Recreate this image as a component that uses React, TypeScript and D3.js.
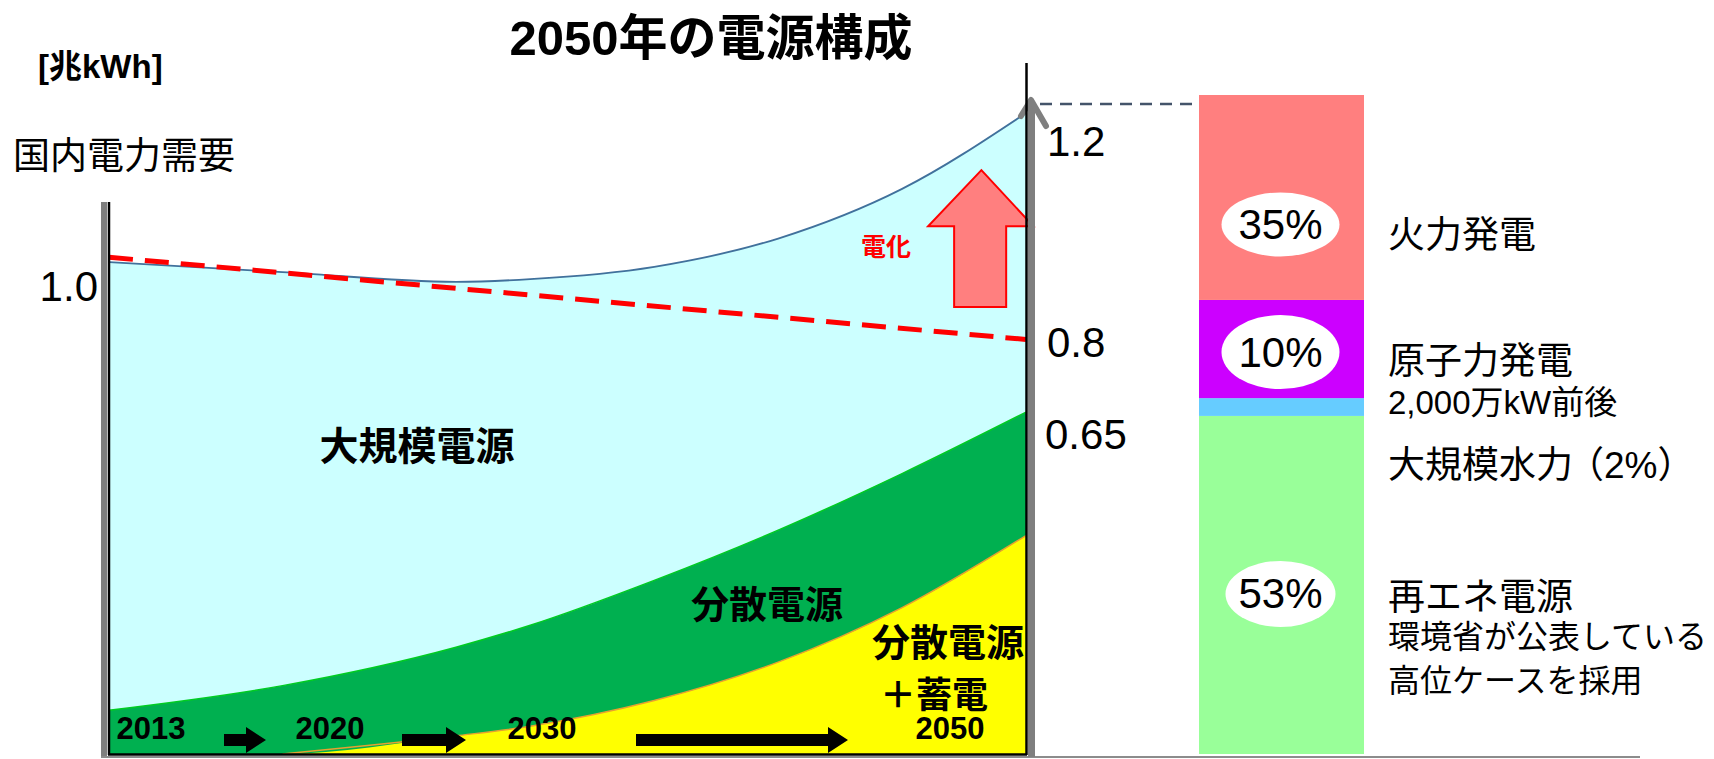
import React from 'react';
import * as d3 from 'd3';

// ---- data ----
const years = [2013, 2020, 2027, 2030, 2035, 2040, 2045, 2050];
const demand = [0.921, 0.902, 0.884, 0.889, 0.912, 0.965, 1.058, 1.2]; // 国内電力需要 (兆kWh)
const distributed = [0.082, 0.128, 0.2, 0.241, 0.325, 0.419, 0.525, 0.64]; // 分散電源 (top)
const storage = [0, 0, 0.034, 0.052, 0.1, 0.172, 0.274, 0.409]; // 分散電源+蓄電 (top)
const baselineYears = [2013, 2050];
const baselineDemand = [0.93, 0.776]; // red dashed (no electrification)

const yearLabels = ['2013', '2020', '2030', '2050'];

const mixNames = ['再エネ電源', '大規模水力', '原子力発電', '火力発電'];
const mixDrawnShare = [51.3, 2.7, 14.9, 31.1]; // heights as drawn in the picture
const mixLabels = ['53%', '', '10%', '35%'];
const mixColors = ['#99FF99', '#66CCFF', '#CC00FF', '#FF7F7F'];

const JP = "'Noto Sans CJK JP', sans-serif";
const MIX = "'Liberation Sans', 'Noto Sans CJK JP', sans-serif";

export default function App() {
  const W = 1714;
  const H = 759;
  const x = d3.scaleLinear().domain([2013, 2050]).range([109, 1026]);
  const y = d3.scaleLinear().domain([0, 1.2]).range([754, 113]);

  const rows = years.map((yr, i) => ({ yr, d: demand[i], g: distributed[i], s: storage[i] }));
  const curve = d3.curveMonotoneX;

  const areaDemand = d3.area<any>().x(r => x(r.yr)).y0(y(0)).y1(r => y(r.d)).curve(curve)(rows) || '';
  const lineDemand = d3.line<any>().x(r => x(r.yr)).y(r => y(r.d)).curve(curve)(rows) || '';
  const areaDist = d3.area<any>().x(r => x(r.yr)).y0(y(0)).y1(r => y(r.g)).curve(curve)(rows) || '';
  const lineDist = d3.line<any>().x(r => x(r.yr)).y(r => y(r.g)).curve(curve)(rows) || '';
  const areaStor = d3.area<any>().x(r => x(r.yr)).y0(y(0)).y1(r => y(r.s)).curve(curve)(rows) || '';
  const lineStor = d3.line<any>().x(r => x(r.yr)).y(r => y(r.s)).curve(curve)(rows.filter(r => r.yr >= 2020)) || '';
  const baseLine = d3.line<any>().x((r: any) => x(r[0])).y((r: any) => y(r[1]))(
    baselineYears.map((yr, i) => [yr, baselineDemand[i]])
  ) || '';

  // stacked bar
  const yBar = d3.scaleLinear().domain([0, 100]).range([754, 95]);
  const xBar = d3.scaleBand().domain(['2050']).range([1199, 1364]).padding(0);
  let acc = 0;
  const segs = mixDrawnShare.map((v, i) => {
    const s = { i, y0: acc, y1: acc + v };
    acc += v;
    return s;
  });
  const ellipseDy = [9, 0, 3, 27];
  const ellipseR = [[55, 33], [0, 0], [59, 37], [59, 32]];

  const yearX = [151, 330, 542, 950];
  const arrows = [
    [224, 266],
    [402, 466],
    [636, 848],
  ];

  // electrification arrow (in data units)
  const arrowPts: [number, number][] = [
    [2048.2, 1.093],
    [2050.3, 0.988],
    [2049.2, 0.988],
    [2049.2, 0.837],
    [2047.1, 0.837],
    [2047.1, 0.988],
    [2046.05, 0.988],
  ];
  const arrowPath = d3.line<[number, number]>().x(p => x(p[0])).y(p => y(p[1]))(arrowPts) + 'Z';

  return (
    <svg width={W} height={H} style={{ position: 'absolute', left: 0, top: 0, background: '#fff' }}>
      {/* title */}
      <text x={711} y={38} textAnchor="middle" dominantBaseline="central" fontFamily={MIX} fontWeight="bold" fontSize={49}>
        2050年の電源構成
      </text>
      <text x={38} y={66} dominantBaseline="central" fontFamily={MIX} fontWeight="bold" fontSize={33}>
        [兆kWh]
      </text>
      <text x={13} y={153} dominantBaseline="central" fontFamily={JP} fontSize={37}>
        国内電力需要
      </text>

      {/* areas */}
      <path d={areaDemand} fill="#CCFFFF" />
      <path d={areaDist} fill="#00B050" />
      <path d={lineDist} fill="none" stroke="#00CC22" strokeWidth={1.5} />
      <path d={areaStor} fill="#FFFF00" />
      <path d={lineStor} fill="none" stroke="#E8A030" strokeWidth={1.5} />
      <path d={lineDemand} fill="none" stroke="#41719C" strokeWidth={1.8} />
      <path d={baseLine} fill="none" stroke="#FF0000" strokeWidth={5} strokeDasharray="24 12" />

      {/* electrification arrow */}
      <path d={arrowPath} fill="#FF7F7F" stroke="#FF0000" strokeWidth={2} />
      <text x={886} y={245} textAnchor="middle" dominantBaseline="central" fontFamily={JP} fontWeight="bold" fontSize={25} fill="#FF0000">
        電化
      </text>

      {/* area labels */}
      <text x={417} y={443} textAnchor="middle" dominantBaseline="central" fontFamily={JP} fontWeight="bold" fontSize={39}>
        大規模電源
      </text>
      <text x={767} y={601} textAnchor="middle" dominantBaseline="central" fontFamily={JP} fontWeight="bold" fontSize={38}>
        分散電源
      </text>
      <text x={948} y={639} textAnchor="middle" dominantBaseline="central" fontFamily={JP} fontWeight="bold" fontSize={38}>
        分散電源
      </text>
      <text x={934} y={692} textAnchor="middle" dominantBaseline="central" fontFamily={JP} fontWeight="bold" fontSize={36}>
        ＋蓄電
      </text>

      {/* timeline */}
      {yearLabels.map((t, i) => (
        <text key={t} x={yearX[i]} y={728} textAnchor="middle" dominantBaseline="central" fontFamily={MIX} fontWeight="bold" fontSize={31}>
          {t}
        </text>
      ))}
      {arrows.map(([a, b], i) => {
        const cy = 740;
        const hl = 20;
        return (
          <path
            key={i}
            d={`M${a},${cy - 6} L${b - hl},${cy - 6} L${b - hl},${cy - 13} L${b},${cy} L${b - hl},${cy + 13} L${b - hl},${cy + 6} L${a},${cy + 6} Z`}
            fill="#000"
          />
        );
      })}

      {/* frame */}
      <rect x={101} y={202} width={6} height={555} fill="#7F7F7F" />
      <line x1={109} y1={202} x2={109} y2={755} stroke="#000" strokeWidth={2.5} />
      <line x1={108} y1={754.5} x2={1027} y2={754.5} stroke="#000" strokeWidth={2.5} />
      <line x1={101} y1={757} x2={1640} y2={757} stroke="#8C8C8C" strokeWidth={2} />
      <rect x={1028} y={104} width={7} height={653} fill="#7F7F7F" />
      <polyline points="1021,116 1031,100 1046,126" fill="none" stroke="#7F7F7F" strokeWidth={6} strokeLinecap="round" strokeLinejoin="round" />
      <line x1={1026.5} y1={63} x2={1026.5} y2={755} stroke="#000" strokeWidth={2.5} />
      <line x1={1040} y1={104} x2={1192} y2={104} stroke="#44546A" strokeWidth={2.5} strokeDasharray="12 8" />

      {/* value labels */}
      <text x={98} y={286} textAnchor="end" dominantBaseline="central" fontFamily={MIX} fontSize={42}>1.0</text>
      <text x={1047} y={141} dominantBaseline="central" fontFamily={MIX} fontSize={42}>1.2</text>
      <text x={1047} y={342} dominantBaseline="central" fontFamily={MIX} fontSize={42}>0.8</text>
      <text x={1045} y={434} dominantBaseline="central" fontFamily={MIX} fontSize={42}>0.65</text>

      {/* stacked bar */}
      {segs.map(s => (
        <rect
          key={s.i}
          x={xBar('2050')}
          y={yBar(s.y1)}
          width={xBar.bandwidth()}
          height={yBar(s.y0) - yBar(s.y1)}
          fill={mixColors[s.i]}
        />
      ))}
      {segs.map(s =>
        mixLabels[s.i] ? (
          <g key={'l' + s.i}>
            <ellipse
              cx={(xBar('2050') as number) + xBar.bandwidth() / 2 - 1}
              cy={yBar((s.y0 + s.y1) / 2) + ellipseDy[s.i]}
              rx={ellipseR[s.i][0]}
              ry={ellipseR[s.i][1]}
              fill="#fff"
            />
            <text
              x={(xBar('2050') as number) + xBar.bandwidth() / 2 - 1}
              y={yBar((s.y0 + s.y1) / 2) + ellipseDy[s.i]}
              textAnchor="middle"
              dominantBaseline="central"
              fontFamily={MIX}
              fontSize={42}
            >
              {mixLabels[s.i]}
            </text>
          </g>
        ) : null
      )}

      {/* bar legend texts */}
      <text x={1388} y={232} dominantBaseline="central" fontFamily={JP} fontSize={37}>{mixNames[3]}</text>
      <text x={1388} y={358} dominantBaseline="central" fontFamily={JP} fontSize={37}>{mixNames[2]}</text>
      <text x={1388} y={402} dominantBaseline="central" fontFamily={MIX} fontSize={33}>2,000万kW前後</text>
      <text x={1388} y={465} dominantBaseline="central" fontFamily={MIX} fontSize={37}>
        {mixNames[1]}
        <tspan dx={-6}>（2%）</tspan>
      </text>
      <text x={1388} y={594} dominantBaseline="central" fontFamily={JP} fontSize={37}>{mixNames[0]}</text>
      <text x={1388} y={634} dominantBaseline="central" fontFamily={JP} fontSize={32}>環境省が公表している</text>
      <text x={1388} y={678} dominantBaseline="central" fontFamily={JP} fontSize={32}>高位ケースを採用</text>
    </svg>
  );
}
